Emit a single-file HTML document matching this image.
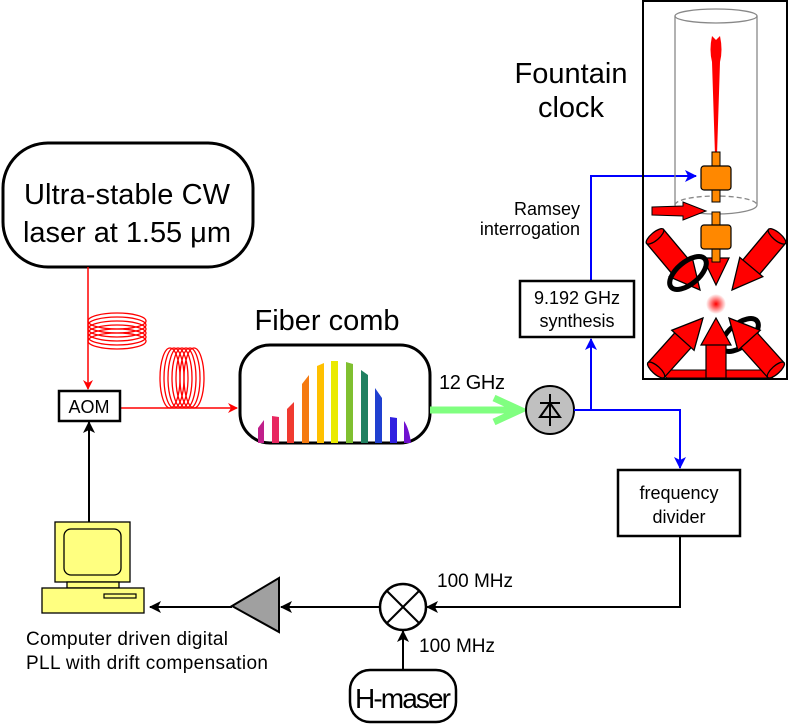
<!DOCTYPE html>
<html><head><meta charset="utf-8"><style>
html,body{margin:0;padding:0;background:#fff;}
svg{display:block;font-family:"Liberation Sans",sans-serif;}
</style></head><body>
<svg width="789" height="728" viewBox="0 0 789 728" xmlns="http://www.w3.org/2000/svg">
<defs>
<marker id="ar" markerWidth="10" markerHeight="10" refX="9" refY="5" orient="auto" markerUnits="userSpaceOnUse"><path d="M0,0 L10,5 L0,10 L3,5 Z" fill="#f00"/></marker>
<marker id="ab" markerWidth="12" markerHeight="12" refX="11" refY="6" orient="auto" markerUnits="userSpaceOnUse"><path d="M0,0 L12,6 L0,12 L3,6 Z" fill="#00f"/></marker>
<marker id="ak" markerWidth="12" markerHeight="12" refX="11" refY="6" orient="auto" markerUnits="userSpaceOnUse"><path d="M0,0 L12,6 L0,12 L3,6 Z" fill="#000"/></marker>
<radialGradient id="dot"><stop offset="0" stop-color="#f00"/><stop offset="1" stop-color="#f00" stop-opacity="0"/></radialGradient>
<g id="laser">
<rect x="-70" y="-11" width="46" height="22" fill="#f00" stroke="#000" stroke-width="1.3"/>
<ellipse cx="-70" cy="0" rx="4" ry="11" fill="#f00" stroke="#000" stroke-width="1.3"/>
<path d="M-30,-15 L-30,15 L0,0 Z" fill="#f00" stroke="#000" stroke-width="1.3"/>
</g>
</defs>

<rect x="3" y="143" width="250" height="124" rx="45" fill="#fff" stroke="#000" stroke-width="3"/>
<text x="127" y="204" font-size="29" text-anchor="middle" textLength="206">Ultra-stable CW</text>
<text x="127" y="242" font-size="29" text-anchor="middle" textLength="208">laser at 1.55 μm</text>

<line x1="88" y1="267" x2="88" y2="389" stroke="#f00" stroke-width="1.5" marker-end="url(#ar)"/>
<g fill="none" stroke="#f00" stroke-width="1.3">
<ellipse cx="117" cy="321" rx="29" ry="8"/><ellipse cx="117" cy="325" rx="29" ry="8"/><ellipse cx="117" cy="329" rx="29" ry="8"/><ellipse cx="117" cy="333" rx="29" ry="8"/><ellipse cx="117" cy="337" rx="29" ry="8"/><ellipse cx="117" cy="341" rx="29" ry="8"/>
<ellipse cx="170" cy="378" rx="10" ry="30"/><ellipse cx="174" cy="378" rx="10" ry="30"/><ellipse cx="178" cy="378" rx="10" ry="30"/><ellipse cx="182" cy="378" rx="10" ry="30"/><ellipse cx="186" cy="378" rx="10" ry="30"/><ellipse cx="190" cy="378" rx="10" ry="30"/><ellipse cx="194" cy="378" rx="10" ry="30"/>
</g>
<line x1="120" y1="408" x2="237" y2="408" stroke="#f00" stroke-width="1.5" marker-end="url(#ar)"/>

<rect x="59" y="391" width="61" height="30" fill="#fff" stroke="#000" stroke-width="2.5"/>
<text x="89" y="413" font-size="18" text-anchor="middle">AOM</text>

<text x="327" y="330" font-size="29" text-anchor="middle" textLength="145">Fiber comb</text>
<rect x="240" y="345" width="190" height="98" rx="30" fill="#fff" stroke="#000" stroke-width="3"/>
<g>
<path d="M258,443 V428 L264,420 V443 Z" fill="#c0208a"/>
<path d="M272,443 V416 L279,417 V443 Z" fill="#e82860"/>
<path d="M287,443 V409 L294,402 V443 Z" fill="#f03a30"/>
<path d="M302,443 V384 L309,375 V443 Z" fill="#f57a10"/>
<path d="M317,443 V366 L324,363 V443 Z" fill="#ffc000"/>
<path d="M331,443 V361 L338,361 V443 Z" fill="#eaea00"/>
<path d="M346,443 V362 L353,364 V443 Z" fill="#80c030"/>
<path d="M361,443 V370 L368,375 V443 Z" fill="#208060"/>
<path d="M375,443 V388 L382,398 V443 Z" fill="#2040d0"/>
<path d="M390,443 V417 L397,418 V443 Z" fill="#3020e0"/>
<path d="M404,443 V421 Q409,428 411,443 Z" fill="#7010d0"/>
</g>

<line x1="430" y1="410" x2="520" y2="410" stroke="#80ff80" stroke-width="7"/>
<polyline points="494,398 520,410 494,422" fill="none" stroke="#80ff80" stroke-width="7"/>
<text x="439" y="389" font-size="20" textLength="66">12 GHz</text>

<circle cx="550" cy="410" r="24" fill="#c0c0c0" stroke="#000" stroke-width="2"/>
<line x1="550" y1="394" x2="550" y2="426" stroke="#000" stroke-width="2"/>
<line x1="540" y1="403" x2="560" y2="403" stroke="#000" stroke-width="2"/>
<path d="M540,417 L560,417 L550,403 Z" fill="none" stroke="#000" stroke-width="2"/>

<polyline points="574,410 680,410 680,468" fill="none" stroke="#00f" stroke-width="2" marker-end="url(#ab)"/>
<line x1="591" y1="410" x2="591" y2="339" stroke="#00f" stroke-width="2" marker-end="url(#ab)"/>
<polyline points="591,280 591,176 696,176" fill="none" stroke="#00f" stroke-width="2" marker-end="url(#ab)"/>

<rect x="520" y="281" width="114" height="56" fill="#fff" stroke="#000" stroke-width="2.5"/>
<text x="577" y="304" font-size="18" text-anchor="middle">9.192 GHz</text>
<text x="577" y="327" font-size="18" text-anchor="middle">synthesis</text>

<text x="580" y="215" font-size="18" text-anchor="end">Ramsey</text>
<text x="580" y="235" font-size="18" text-anchor="end">interrogation</text>

<text x="571" y="83" font-size="29" text-anchor="middle" textLength="113">Fountain</text>
<text x="571" y="117" font-size="29" text-anchor="middle">clock</text>

<rect x="643" y="1" width="144" height="378" fill="none" stroke="#000" stroke-width="2"/>
<g>
<line x1="675" y1="16" x2="675" y2="205" stroke="#888" stroke-width="1.3"/>
<line x1="757" y1="16" x2="757" y2="205" stroke="#888" stroke-width="1.3"/>
<ellipse cx="716" cy="16" rx="41" ry="7" fill="none" stroke="#888" stroke-width="1.3"/>
<path d="M675,205 A41,9 0 0 1 757,205" fill="none" stroke="#888" stroke-width="1.3" stroke-dasharray="5,3"/>
<path d="M675,205 A41,9 0 0 0 757,205" fill="none" stroke="#888" stroke-width="1.3"/>
<path d="M712,36 Q709,50 712,62 L715,155 L717,155 L720,62 Q723,50 720,36 L716,40 Z" fill="#f00"/>
<use href="#laser" transform="translate(700,290) rotate(50)"/>
<use href="#laser" transform="translate(732,290) rotate(130)"/>
<path d="M703,258 L729,258 L716,285 Z" fill="#f00" stroke="#000" stroke-width="1.2"/>
<ellipse cx="688" cy="273" rx="22" ry="11" transform="rotate(-40 688 273)" fill="none" stroke="#000" stroke-width="5"/>
<rect x="712" y="152" width="8" height="50" fill="#f80" stroke="#000" stroke-width="1"/>
<rect x="701" y="166" width="30" height="24" rx="3" fill="#f80" stroke="#000" stroke-width="1.2"/>
<path d="M652,207 L683,206 L683,202 L706,211 L683,220 L683,216 L652,215 Z" fill="#f00" stroke="#000" stroke-width="1"/>
<rect x="712" y="212" width="8" height="50" fill="#f80" stroke="#000" stroke-width="1"/>
<rect x="701" y="225" width="30" height="24" rx="3" fill="#f80" stroke="#000" stroke-width="1.2"/>
<circle cx="716" cy="304" r="10" fill="url(#dot)"/>
<path d="M652,370 L667,378 L772,378 L780,370 Z" fill="#f00" stroke="#000" stroke-width="1"/>
<use href="#laser" transform="translate(703,318) rotate(-48)"/>
<ellipse cx="740" cy="335" rx="22" ry="11" transform="rotate(-40 740 335)" fill="none" stroke="#000" stroke-width="5"/>
<use href="#laser" transform="translate(729,318) rotate(-132)"/>
<rect x="706" y="340" width="20" height="38" fill="#f00" stroke="#000" stroke-width="1.2"/>
<path d="M701,345 L716,318 L731,345 Z" fill="#f00" stroke="#000" stroke-width="1.2"/>
</g>

<rect x="618" y="470" width="122" height="66" fill="#fff" stroke="#000" stroke-width="2.5"/>
<text x="679" y="499" font-size="18" text-anchor="middle">frequency</text>
<text x="679" y="523" font-size="18" text-anchor="middle">divider</text>

<polyline points="680,536 680,607 427,607" fill="none" stroke="#000" stroke-width="2" marker-end="url(#ak)"/>
<text x="437" y="587" font-size="19" textLength="76">100 MHz</text>

<circle cx="403" cy="607" r="23" fill="#fff" stroke="#000" stroke-width="2.5"/>
<line x1="387" y1="591" x2="419" y2="623" stroke="#000" stroke-width="2"/>
<line x1="419" y1="591" x2="387" y2="623" stroke="#000" stroke-width="2"/>

<line x1="403" y1="670" x2="403" y2="631" stroke="#000" stroke-width="2" marker-end="url(#ak)"/>
<text x="419" y="652" font-size="19" textLength="76">100 MHz</text>

<rect x="350" y="670" width="106" height="52" rx="20" fill="#fff" stroke="#000" stroke-width="2.5"/>
<text x="403" y="708" font-size="28" text-anchor="middle" textLength="96">H-maser</text>

<line x1="380" y1="607" x2="281" y2="607" stroke="#000" stroke-width="2" marker-end="url(#ak)"/>
<path d="M232,606 L279,578 L279,632 Z" fill="#a0a0a0" stroke="#000" stroke-width="2"/>
<line x1="232" y1="607" x2="150" y2="607" stroke="#000" stroke-width="2" marker-end="url(#ak)"/>

<line x1="89" y1="522" x2="89" y2="422" stroke="#000" stroke-width="2" marker-end="url(#ak)"/>
<rect x="55" y="522" width="75" height="60" fill="#ffff80" stroke="#000" stroke-width="1.3"/>
<rect x="64" y="529" width="57" height="46" rx="7" fill="#ffff80" stroke="#000" stroke-width="1.3"/>
<rect x="67" y="582" width="52" height="6" fill="#ffff80" stroke="#000" stroke-width="1.3"/>
<rect x="42" y="588" width="102" height="25" fill="#ffff80" stroke="#000" stroke-width="1.3"/>
<rect x="104" y="594" width="32" height="4" fill="#ffff80" stroke="#000" stroke-width="1.2"/>
<text x="26" y="645" font-size="19" textLength="202">Computer driven digital</text>
<text x="26" y="669" font-size="19" textLength="242">PLL with drift compensation</text>
</svg>
</body></html>
